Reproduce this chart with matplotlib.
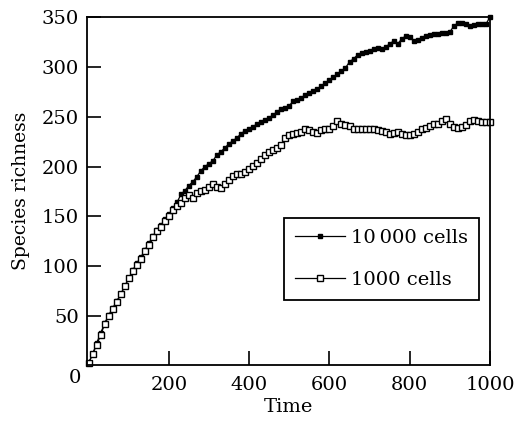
import numpy as np
import matplotlib
matplotlib.use("Agg")
import matplotlib.pyplot as plt

time = list(range(0, 1001, 10))

cells_10000 = [
    3, 12, 23, 33, 43, 51, 58, 65, 72, 80,
    88, 96, 103, 109, 116, 123, 130, 136, 141, 147,
    152, 158, 164, 172, 176, 181, 185, 190, 196, 200,
    203, 206, 212, 215, 219, 223, 226, 229, 233, 236,
    238, 240, 243, 245, 247, 249, 252, 255, 258, 259,
    261, 266, 267, 269, 272, 274, 276, 278, 281, 284,
    287, 290, 293, 296, 299, 305, 308, 312, 314, 315,
    316, 318, 319, 318, 320, 323, 326, 323, 328, 331,
    330, 326, 327, 329, 331, 332, 333, 333, 334, 334,
    335, 341, 344, 344, 343, 341, 342, 343, 343, 343,
    350,
]

cells_1000 = [
    3, 12, 21, 31, 42, 50, 57, 64, 72, 80,
    88, 95, 101, 107, 115, 121, 129, 135, 139, 145,
    150, 156, 160, 163, 168, 171, 168, 173, 175, 177,
    180, 183, 180, 179, 183, 187, 191, 193, 193, 195,
    198, 201, 204, 208, 212, 215, 217, 219, 222, 229,
    232, 233, 234, 235, 238, 237, 235, 234, 237, 238,
    238, 241, 246, 243, 242, 241, 238, 238, 238, 238,
    238, 238, 237, 236, 235, 233, 234, 235, 233, 232,
    232, 233, 235, 238, 239, 241, 243, 243, 246, 248,
    243, 240, 239, 240, 242, 246, 247, 246, 245, 245,
    245,
]

series_labels = ["10\u2009000 cells", "1000 cells"]
xticks = [200, 400, 600, 800, 1000]
yticks = [50, 100, 150, 200, 250, 300, 350]

plt.rcParams['font.family'] = ['DejaVu Serif']
FS = 14
W, H = 516, 423
fig = plt.figure(figsize=(W / 100, H / 100), dpi=100)
left, right, top, bottom = 87, 490, 17, 364.5
ax = fig.add_axes([left / W, 1 - bottom / H, (right - left) / W, (bottom - top) / H])

ax.plot(time, cells_10000, color='black', lw=0.9, marker='s', ms=3.0,
        mfc='black', mec='black', label=series_labels[0], clip_on=False)
ax.plot(time, cells_1000, color='black', lw=0.9, marker='s', ms=4.6,
        mfc='white', mec='black', mew=1.0, label=series_labels[1], clip_on=False)

ax.set_xlim(-4, 1000)
ax.set_ylim(1.5, 350)
ax.set_xticks(xticks)
ax.set_yticks(yticks)
ax.tick_params(direction='in', length=10, width=1.2, labelsize=FS)
ax.tick_params(axis='x', pad=8)
ax.tick_params(axis='y', pad=6)
for s in ax.spines.values():
    s.set_linewidth(1.3)

fig.text(75 / W, 1 - 378 / H, "0", fontsize=FS, ha='center', va='center')
ax.set_xlabel("Time", fontsize=FS, labelpad=3)
ax.set_ylabel("Species richness", fontsize=13.5, labelpad=8)

leg = ax.legend(loc='upper left', bbox_to_anchor=((284 - left) / (right - left), 1 - (218 - top) / (bottom - top)),
                fontsize=FS, handlelength=2.6, handletextpad=0.3, borderpad=0.55,
                labelspacing=1.25, fancybox=False, framealpha=1, edgecolor='black',
                borderaxespad=0)
leg.get_frame().set_linewidth(1.3)

fig.savefig("out.png", dpi=100)
